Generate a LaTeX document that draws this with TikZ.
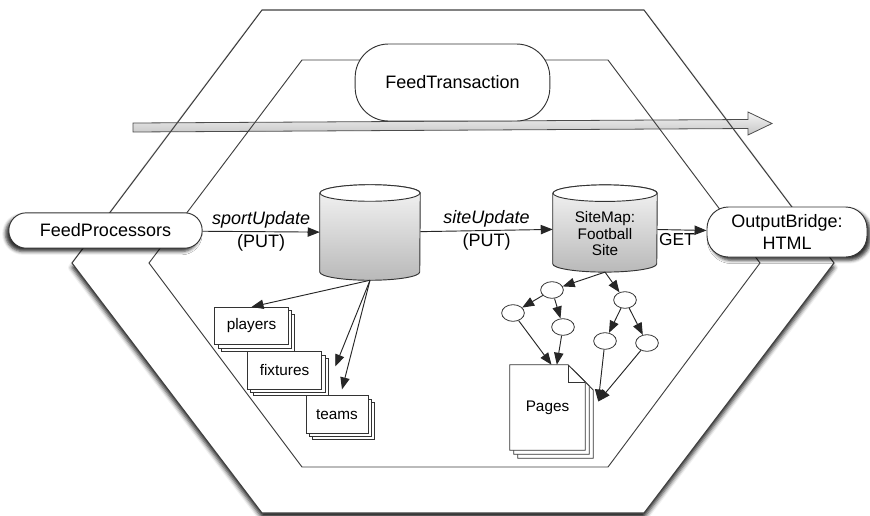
\documentclass[tikz,border=0pt]{standalone}
\usepackage{fontspec}
\setmainfont{Liberation Sans}
\usetikzlibrary{calc}
\usetikzlibrary{shapes.geometric}
\usetikzlibrary{shadows,shadows.blur}
\usetikzlibrary{arrows.meta,positioning}

% cylinder drawn round an empty node: #1 node, #2 half width
\newcommand{\drawdb}[2]{%
  \shade[top color=gray!8, bottom color=gray!55, draw=black!80, line width=0.7pt]
    ([yshift=-6.2pt]#1.north west) -- ([yshift=6.2pt]#1.south west)
    arc[start angle=180, end angle=360, x radius=#2, y radius=6.2pt]
    -- ([yshift=-6.2pt]#1.north east)
    arc[start angle=0, end angle=180, x radius=#2, y radius=6.2pt] -- cycle;
  \draw[fill=white, draw=black!80, line width=0.7pt]
    ([yshift=-6.2pt]#1.north) ellipse[x radius=#2, y radius=6.2pt];
}

\begin{document}
\begin{tikzpicture}[x=0.75pt, y=-0.75pt,
      hexline/.style = {draw=black!75, line width=0.8pt},
      endpoint/.style = {draw=black!80, fill=white, line width=0.7pt, inner sep=0pt, align=center,
        font=\fontsize{13.5}{16.5}\selectfont},
      dbbody/.style = {draw=none, inner sep=0pt},
      smalltext/.style = {inner sep=0pt, align=center, font=\fontsize{11.5}{12.5}\selectfont},
      stacked/.style 2 args = {
        general shadow={shadow scale=1, shadow xshift=#2, shadow yshift=-#2, draw=black!80, fill=white, line width=0.6pt},
        general shadow={shadow scale=1, shadow xshift=#1, shadow yshift=-#1, draw=black!80, fill=white, line width=0.6pt}},
      doc/.style = {draw=black!80, fill=white, line width=0.6pt, inner sep=0pt, minimum height=28pt,
        font=\fontsize{11.5}{13}\selectfont, stacked={2.5pt}{5pt}},
      leaf/.style = {ellipse, draw=black!80, fill=white, line width=0.6pt, inner sep=0pt,
        minimum width=17pt, minimum height=12.5pt},
      link/.style = {draw=black!85, line width=0.7pt, -{Triangle[length=9pt,width=7pt]}},
      lbl/.style = {inner sep=2pt, font=\fontsize{13.5}{16}\selectfont}
    ]
    \useasboundingbox (0,0) rectangle (870,515);

    % layers of the hexagon
    \coordinate (o1) at (262,10);  \coordinate (o2) at (644,10);
    \coordinate (o3) at (834,263); \coordinate (o4) at (644,513);
    \coordinate (o5) at (262,513); \coordinate (o6) at (72,263);
    \coordinate (i1) at (302,60);  \coordinate (i2) at (608,60);
    \coordinate (i3) at (760,263); \coordinate (i4) at (608,467);
    \coordinate (i5) at (302,467); \coordinate (i6) at (149,263);

    \fill[white, blur shadow={shadow xshift=0pt, shadow yshift=-3.5pt, shadow blur radius=3pt, shadow opacity=85}]
      (o1) -- (o2) -- (o3) -- (o4) -- (o5) -- (o6) -- cycle;

    % transaction flow
    \shade[top color=gray!8, bottom color=gray!45, draw=black!70, line width=0.6pt]
      (133,123) -- (748,119.5) -- (748,112) -- (772,123.5) -- (748,135) -- (748,128.5) -- (133,132) -- cycle;

    \draw[hexline] (o1) -- (o2) -- (o3) -- (o4) -- (o5) -- (o6) -- cycle;
    \draw[hexline, line width=0.7pt] (i1) -- (i2) -- (i3) -- (i4) -- (i5) -- (i6) -- cycle;

    % ports
    \node[endpoint, minimum width=146pt, minimum height=57.75pt, rounded corners=25pt] (trans) at (452.5,82.5) {FeedTransaction};
    \node[endpoint, minimum width=145pt, minimum height=26.5pt, rounded corners=13pt,
      blur shadow={shadow xshift=-2.5pt, shadow yshift=-2.5pt, shadow blur radius=2.5pt, shadow opacity=80}] (feed) at (105.5,230.5) {FeedProcessors};
    \node[endpoint, minimum width=120pt, minimum height=37.5pt, rounded corners=16pt,
      blur shadow={shadow xshift=2.5pt, shadow yshift=-2.5pt, shadow blur radius=2.5pt, shadow opacity=80}] (output) at (787,232) {OutputBridge:\\HTML};

    % stores
    \node[dbbody, minimum width=75pt, minimum height=71.25pt] (store) at (370,232.5) {};
    \drawdb{store}{37.5pt}
    \node[dbbody, minimum width=78pt, minimum height=65pt] (sitemap) at (605,228.5) {};
    \drawdb{sitemap}{39pt}
    \node[smalltext] (sitemaplabel) at ([yshift=-4pt]sitemap.center) {SiteMap:\\Football\\Site};

    % documents
    \node[doc, minimum width=55pt] (players) at (251.5,326) {players};
    \node[doc, minimum width=56pt] (fixtures) at (284.5,370.5) {fixtures};
    \node[doc, minimum width=46.5pt] (teams) at (337,414.5) {teams};

    \node[dbbody, minimum width=56.25pt, minimum height=63.75pt] (pages) at (547.5,407.5) {};
    \draw[draw=black!80, fill=white, line width=0.6pt, stacked={3pt}{6pt}]
      (pages.north west) -- ([xshift=-13pt]pages.north east) -- ([yshift=-13pt]pages.north east)
      -- (pages.south east) -- (pages.south west) -- cycle;
    \draw[draw=black!80, line width=0.6pt]
      ([xshift=-13pt]pages.north east) -- ([xshift=-13pt,yshift=-13pt]pages.north east) -- ([yshift=-13pt]pages.north east);
    \node[smalltext] (pageslabel) at (pages.center) {Pages};

    % site tree
    \node[leaf] (n1) at (552,290) {};
    \node[leaf] (n2) at (513,313) {};
    \node[leaf] (n3) at (563,327) {};
    \node[leaf] (n4) at (625,300) {};
    \node[leaf] (n5) at (605,341) {};
    \node[leaf] (n6) at (647,343) {};

    % connectors
    \draw[link] (feed) -- node[lbl, above] {\textit{sportUpdate}} node[lbl, below] {(PUT)} (store);
    \draw[link] (store) -- node[lbl, above] {\textit{siteUpdate}} node[lbl, below] {(PUT)} (sitemap);
    \draw[link] (sitemap) -- node[lbl, below, pos=0.4, font=\fontsize{13}{15}\selectfont] {GET} (output);

    \draw[link] (store.south) -- (players.north);
    \draw[link] (store.south) -- ($(fixtures.east)+(13,-4)$);
    \draw[link] (store.south) -- ($(teams.north)+(5,-6)$);

    \draw[link] (sitemap.south) -- (n1);
    \draw[link] (sitemap.south) -- (n4);
    \draw[link] (n1) -- (n2);
    \draw[link] (n1) -- (n3);
    \draw[link] (n4) -- (n5);
    \draw[link] (n4) -- (n6);
    \coordinate (pagesin) at ($(pages.east)+(13,-6)$);
    \draw[link] (n2) -- ([xshift=3pt]pages.north);
    \draw[link] (n3) -- ([xshift=7pt]pages.north);
    \draw[link] (n5) -- (pagesin);
    \draw[link] (n6) -- (pagesin);
\end{tikzpicture}
\end{document}
